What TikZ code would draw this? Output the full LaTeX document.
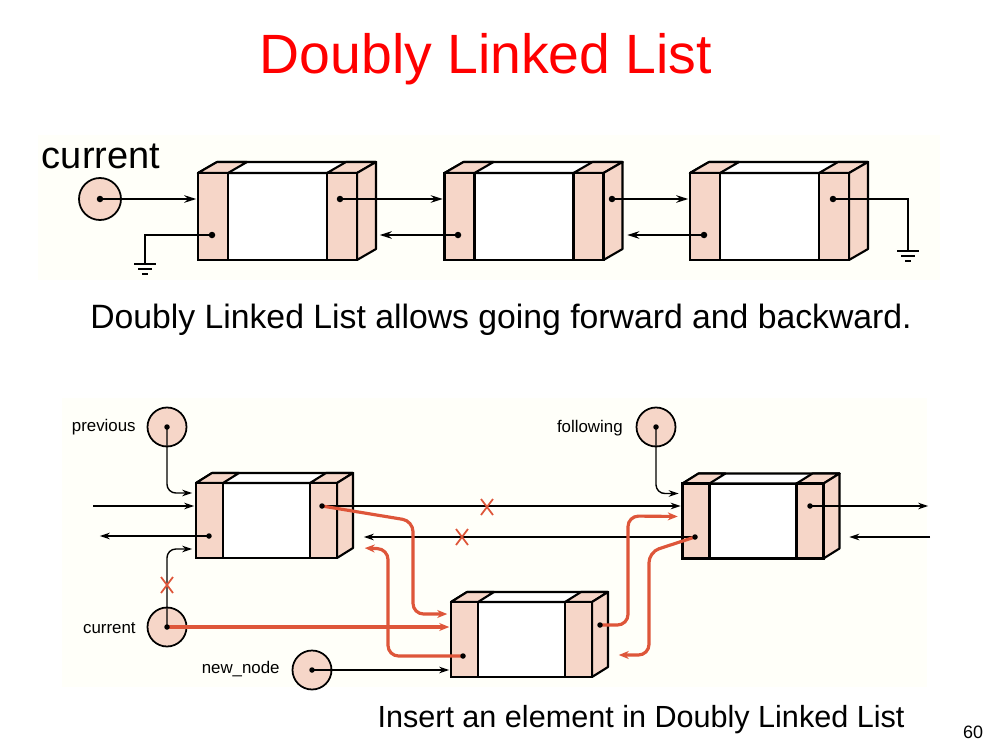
\documentclass[tikz,border=0pt]{standalone}
\usepackage{fontspec}
\setmainfont{Liberation Sans}
\usepackage{xcolor}
\usetikzlibrary{arrows.meta,calc,positioning}

\definecolor{cellpink}{RGB}{246,214,200}
\definecolor{linkred}{RGB}{222,86,58}
\definecolor{titlered}{RGB}{255,0,0}
\definecolor{paper}{RGB}{255,255,249}

% one list cell: name, centre, width, height, pointer part, depth x, depth y
\newcommand{\dllcell}[7]{%
  \node[cellbox,minimum width=#3,minimum height=#4] (#1) at (#2) {};
  \filldraw[cellface,fill=white] (#1.north west) -- ++(#6,#7) -- ($(#1.north east)+(#6,#7)$) -- (#1.north east) -- cycle;
  \filldraw[cellface] (#1.north west) -- ++(#6,#7) -- ++(#5,0) -- ($(#1.north west)+(#5,0)$) -- cycle;
  \filldraw[cellface] (#1.north east) -- ++(#6,#7) -- ++(-#5,0) -- ($(#1.north east)+(-#5,0)$) -- cycle;
  \filldraw[cellface] (#1.north east) -- ++(#6,#7) -- ($(#1.south east)+(#6,#7)$) -- (#1.south east) -- cycle;
  \filldraw[cellface] (#1.south west) rectangle ($(#1.north west)+(#5,0)$);
  \filldraw[cellface] (#1.south east) rectangle ($(#1.north east)+(-#5,0)$);
}

\begin{document}
\begin{tikzpicture}[x=0.2mm,y=-0.2mm,>=Stealth,
  cellbox/.style={draw,line width=1.2pt,fill=white,inner sep=0pt,outer sep=0pt},
  cellface/.style={draw,fill=cellpink,line width=1.2pt,line join=round},
  ptr/.style={circle,draw,fill=cellpink,line width=1pt,inner sep=0pt,minimum size=8.4mm},
  wire/.style={line width=1pt},
  arr/.style={-{Stealth[length=2.4mm,width=1.5mm]},line width=1pt,shorten >=1pt},
  thinarr/.style={-{Stealth[length=2mm,width=1.3mm]},line width=0.8pt,shorten >=1pt},
  redarr/.style={-{Stealth[length=2mm,width=1.6mm]},line width=1.8pt,draw=linkred,shorten >=1pt},
  lbl/.style={font=\fontsize{9.6}{11}\selectfont,inner sep=0pt},
  ground/.pic={\draw[line width=1pt] (-11,0) -- (11,0) (-7,5) -- (7,5) (-3,10) -- (3,10);},
  cross/.pic={\draw[linkred,line width=1pt] (-6,-8) -- (6,8) (-6,8) -- (6,-8);}]
\useasboundingbox (0,0) rectangle (1000,750);
\fill[white] (0,0) rectangle (1000,750);
\fill[paper] (38,135) rectangle (940,280);
\fill[paper] (62,398) rectangle (927,687);

% title and captions
\node[anchor=base,text=titlered,font=\fontsize{31.5}{36}\selectfont] (title) at (486,73) {Doubly Linked List};
\node[anchor=base,font=\fontsize{19.2}{23}\selectfont] (caption1) at (501,328) {Doubly Linked List allows going forward and backward.};
\node[anchor=base,font=\fontsize{17.4}{21}\selectfont] (caption2) at (641,727) {Insert an element in Doubly Linked List};
\node[anchor=base,font=\fontsize{10.2}{12}\selectfont] (pagenum) at (973,738) {60};

% upper list
\dllcell{c1}{277.5,216.5}{31.8mm}{17.4mm}{6mm}{3.8mm}{2.2mm}
\dllcell{c2}{524,216.5}{31.8mm}{17.4mm}{6mm}{3.8mm}{2.2mm}
\dllcell{c3}{769.5,216.5}{31.8mm}{17.4mm}{6mm}{3.8mm}{2.2mm}
\node[ptr] (cur) at (100,199) {};
\node[anchor=base,font=\fontsize{21.6}{25}\selectfont] (curlbl) at (101,168) {current};
\coordinate (d1l) at (212,235);
\coordinate (d1r) at (340,199);
\coordinate (d2l) at (458,235);
\coordinate (d2r) at (612,199);
\coordinate (d3l) at (704,235);
\coordinate (d3r) at (833,199);
\coordinate (g1) at (145,264);
\coordinate (g2) at (908,251);

\draw[arr] (cur.center) -- (c1.west |- cur);
\draw[arr] (d1r) -- (c2.west |- d1r);
\draw[arr] (d2l) -- ($(c1.east |- d2l)+(4.2mm,0)$);
\draw[arr] (d2r) -- (c3.west |- d2r);
\draw[arr] (d3l) -- ($(c2.east |- d3l)+(4.4mm,0)$);
\draw[wire] (d1l) -| (g1);
\draw[wire] (d3r) -| (g2);
\pic at (g1) {ground};
\pic at (g2) {ground};
\foreach \d in {cur,d1l,d1r,d2l,d2r,d3l,d3r}
  \fill (\d) circle (0.65mm);

% lower list: inserting a cell
\dllcell{A}{266.5,520.5}{28.2mm}{15mm}{5.4mm}{3.2mm}{2mm}
\dllcell{B}{753,521}{28.2mm}{15mm}{5.4mm}{3.2mm}{2mm}
\dllcell{N}{521.5,639.5}{28.2mm}{15mm}{5.4mm}{3.2mm}{2mm}
\node[ptr,minimum size=7.8mm] (prev) at (167,427) {};
\node[ptr,minimum size=7.8mm] (follow) at (656,427) {};
\node[ptr,minimum size=7.8mm] (curr) at (167,627) {};
\node[ptr,minimum size=7.8mm] (newn) at (312,670) {};
\node[lbl,anchor=base east] (prevlbl) at (136,431) {previous};
\node[lbl,anchor=base east] (followlbl) at (623,432) {following};
\node[lbl,anchor=base east] (currlbl) at (136,633) {current};
\node[lbl,anchor=base east] (newnlbl) at (280,673) {new\_node};
\coordinate (dAl) at (209,536);
\coordinate (dAr) at (322,506);
\coordinate (dBl) at (695,537);
\coordinate (dBr) at (810,506);
\coordinate (dNl) at (463,656);
\coordinate (dNr) at (600,625);
\coordinate (Ain) at (93,506);
\coordinate (Aout) at (98,536);
\coordinate (Bout) at (930,506);
\coordinate (Bin) at (930,537);

\draw[thinarr] (Ain) -- (A.west |- Ain);
\draw[thinarr] (dAl) -- (Aout);
\draw[thinarr] (dAr) -- (B.west |- dAr);
\draw[thinarr] (dBl) -- ($(A.east |- dBl)+(5mm,0)$);
\draw[thinarr] (dBr) -- (Bout);
\draw[thinarr] (Bin) -- ($(B.east |- Bin)+(4.8mm,0)$);
\draw[thinarr,rounded corners=5pt] (prev.center) |- ($(A.north west)+(-0.4mm,-2mm)$);
\draw[thinarr,rounded corners=5pt] (follow.center) |- ($(B.north west)+(-0.4mm,-2mm)$);
\draw[thinarr,rounded corners=5pt] (curr.center) |- ($(A.south west)+(-0.4mm,1.8mm)$);
\draw[thinarr] (newn.center) -- (N.west |- newn);
\pic at (487,507) {cross};
\pic at (462,537) {cross};
\pic at (167,585) {cross};

\draw[redarr] (curr.center) -- (N.west |- curr);
\draw[redarr,rounded corners=6pt] (dAr) -- (413,521) -- (413,614) -- ($(N.north west)+(-0.4mm,-2.4mm)$);
\draw[redarr,rounded corners=6pt] (dNl) -- (388,656) -- (388,549) -- ($(A.south east)+(5.2mm,2mm)$);
\draw[redarr,rounded corners=6pt] (dNr) -- (628,625) -- (628,516) -- ($(B.north west)+(-0.6mm,-6.6mm)$);
\draw[redarr,rounded corners=6pt] (dBl) -- (649,552) -- (649,655) -- ($(N.south east)+(5mm,4.4mm)$);
\foreach \d in {prev,follow,curr,newn,dAl,dAr,dBl,dBr,dNl,dNr}
  \fill (\d) circle (0.55mm);
\end{tikzpicture}
\end{document}
